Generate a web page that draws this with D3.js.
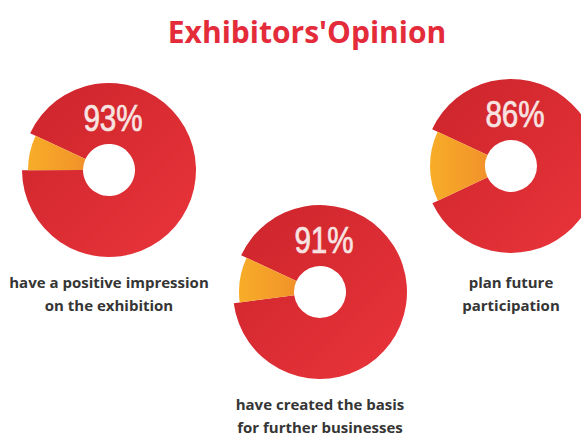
<!DOCTYPE html>
<html lang="en">
<head>
<meta charset="utf-8">
<title>Exhibitors' Opinion</title>
<style>
body { margin: 0; background: #fff; }
.title { font-family: "Open Sans", sans-serif; font-weight: 700; font-size: 30px; fill: #e32b3a; }
.pct { font-family: "Liberation Sans", Arial, sans-serif; font-size: 37px; fill: #f7e4e2; stroke: #f7e4e2; stroke-width: 0.7px; text-anchor: middle; }
.label { font-family: "Open Sans", sans-serif; font-weight: 700; font-size: 15px; fill: #353535; text-anchor: middle; }
</style>
</head>
<body>
<script src="https://d3js.org/d3.v7.min.js"></script>
<script>
// data
var categories = ["positive impression", "basis for business", "future participation"];
var values = [93, 91, 86];
var labelLines = [
  ["have a positive impression", "on the exhibition"],
  ["have created the basis", "for further businesses"],
  ["plan future", "participation"]
];

// layout
var centers = [[109, 170], [320, 292], [511, 166]];
var labelY = [288, 410, 288];
var R = 87, r0 = 26;

var svg = d3.select("body").append("svg").attr("width", 581).attr("height", 442);

var defs = svg.append("defs");
var red = defs.append("linearGradient").attr("id", "red")
  .attr("x1", "0").attr("y1", "0").attr("x2", "1").attr("y2", "1");
red.append("stop").attr("offset", "0%").attr("stop-color", "#cc242b");
red.append("stop").attr("offset", "100%").attr("stop-color", "#ea353b");
var orange = defs.append("linearGradient").attr("id", "orange")
  .attr("x1", "0").attr("y1", "0").attr("x2", "1").attr("y2", "0");
orange.append("stop").attr("offset", "0%").attr("stop-color", "#f7ad28");
orange.append("stop").attr("offset", "100%").attr("stop-color", "#f2922a");

svg.append("text").attr("class", "title")
  .attr("x", 307).attr("y", 43).attr("text-anchor", "middle")
  .text("Exhibitors'Opinion");

// orange slice always closes 25deg above 9 o'clock, red takes the rest
var a0 = -65 * Math.PI / 180;
var pie = d3.pie().sort(null).startAngle(a0).endAngle(a0 + 2 * Math.PI);

var g = svg.selectAll(".donut")
  .data(values)
  .enter()
  .append("g")
  .attr("class", "donut")
  .attr("transform", function(d, i) { return "translate(" + centers[i][0] + "," + centers[i][1] + ")"; });

g.selectAll("path")
  .data(function(d) { return pie([d, 100 - d]); })
  .enter()
  .append("path")
  .attr("d", function(d, i) {
    return d3.arc().innerRadius(r0).outerRadius(i === 0 ? R : R - 6)(d);
  })
  .attr("fill", function(d, i) { return i === 0 ? "url(#red)" : "url(#orange)"; });

// condensed look for the percentages
g.append("text")
  .attr("class", "pct")
  .attr("transform", "translate(4,-39) scale(0.8,1)")
  .text(function(d) { return d + "%"; });

svg.selectAll(".labels")
  .data(labelLines)
  .enter()
  .append("g")
  .each(function(lines, i) {
    d3.select(this).selectAll("text")
      .data(lines)
      .enter()
      .append("text")
      .attr("class", "label")
      .attr("x", centers[i][0])
      .attr("y", function(t, j) { return labelY[i] + j * 23; })
      .text(function(t) { return t; });
  });
</script>
</body>
</html>
